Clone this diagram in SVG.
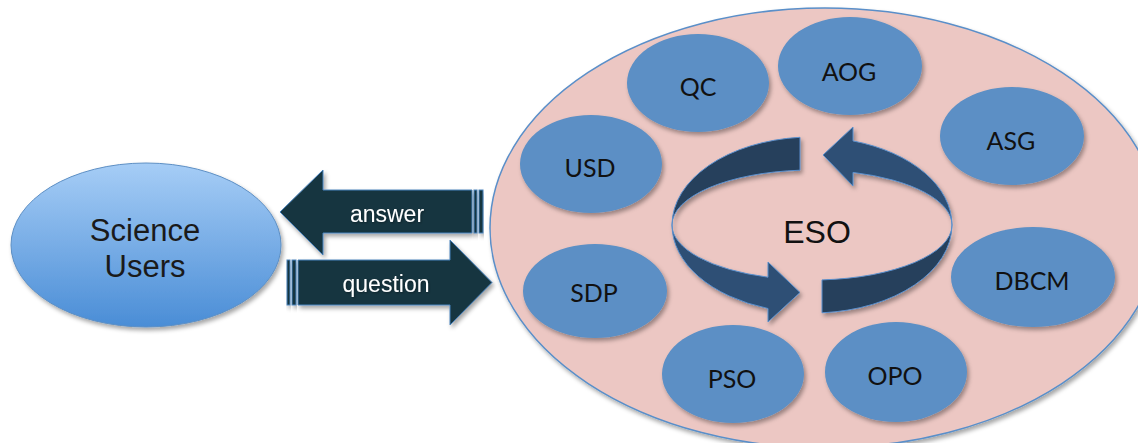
<svg xmlns="http://www.w3.org/2000/svg" width="1138" height="443" viewBox="0 0 1138 443">
<defs>
<linearGradient id="gUsers" x1="0" y1="0" x2="0" y2="1">
<stop offset="0" stop-color="#a6cdf6"/>
<stop offset="1" stop-color="#4a8dd6"/>
</linearGradient>
<filter id="sh" x="-20%" y="-20%" width="140%" height="150%">
<feDropShadow dx="2" dy="3" stdDeviation="2" flood-color="#000" flood-opacity="0.35"/>
</filter>
<filter id="tsh" x="-10%" y="-20%" width="120%" height="150%">
<feDropShadow dx="1" dy="1" stdDeviation="0.8" flood-color="#000" flood-opacity="0.35"/>
</filter>
</defs>
<style>
.node{fill:#5b8fc5;filter:url(#sh)}
.lbl{font-family:Lato,"Open Sans",sans-serif;font-size:25px;fill:#111;text-anchor:middle}
.arr{fill:#153541;stroke:#4a83bd;stroke-width:1;filter:url(#sh)}
.atxt{font-family:"Liberation Sans",Arial,sans-serif;font-size:23px;fill:#fff;text-anchor:middle;filter:url(#tsh)}
.dk{fill:#253f5c;stroke:#5a8fcc;stroke-width:1}
.lt{fill:#2d5075;stroke:#5a8fcc;stroke-width:1}
</style>
<rect width="1138" height="443" fill="#fff"/>

<g id="eso">
<ellipse cx="825" cy="228" rx="335" ry="220" fill="#ecc7c3" stroke="#5a8fc9" stroke-width="1.5" filter="url(#sh)"/>
<g id="cycle" filter="url(#sh)">
<path class="dk" d="M 800 137.3 A 140 88 0 0 0 672 225 A 140 55 0 0 1 800 170.2 Z"/>
<path class="lt" d="M 672 225 A 140 88 0 0 0 768 308.5 L 768 322 L 800 292.5 L 768 262 L 768 277.2 A 140 55 0 0 1 672 225 Z"/>
<path class="dk" d="M 822 279.9 L 822 312.8 A 140 88 0 0 0 952 225 A 140 55 0 0 1 822 279.9 Z"/>
<path class="lt" d="M 952 225 A 140 88 0 0 0 853 140.9 L 853 127 L 823 155 L 853 186 L 853 172.4 A 140 55 0 0 1 952 225 Z"/>
</g>
<text x="817" y="243" font-family="'Liberation Sans',Arial,sans-serif" font-size="32" fill="#111" text-anchor="middle">ESO</text>
</g>

<g id="science-users">
<ellipse cx="146" cy="245" rx="135" ry="82" fill="url(#gUsers)" stroke="#5d8fc4" stroke-width="1" filter="url(#sh)"/>
<text x="145" y="241" font-family="'Liberation Sans',Arial,sans-serif" font-size="31" fill="#1a1a1a" text-anchor="middle">Science</text>
<text x="145" y="277" font-family="'Liberation Sans',Arial,sans-serif" font-size="31" fill="#1a1a1a" text-anchor="middle">Users</text>
</g>

<g id="qc"><ellipse class="node" cx="698" cy="83" rx="71" ry="49"/><text class="lbl" x="698" y="96">QC</text></g>
<g id="aog"><ellipse class="node" cx="850" cy="66" rx="72" ry="49"/><text class="lbl" x="849" y="81">AOG</text></g>
<g id="asg"><ellipse class="node" cx="1012" cy="136" rx="72" ry="49"/><text class="lbl" x="1011" y="150">ASG</text></g>
<g id="usd"><ellipse class="node" cx="591" cy="164" rx="71" ry="49"/><text class="lbl" x="590" y="177">USD</text></g>
<g id="sdp"><ellipse class="node" cx="595" cy="291" rx="72" ry="47"/><text class="lbl" x="594" y="302">SDP</text></g>
<g id="pso"><ellipse class="node" cx="733" cy="374" rx="71" ry="49"/><text class="lbl" x="732" y="388">PSO</text></g>
<g id="opo"><ellipse class="node" cx="896" cy="372" rx="71" ry="50"/><text class="lbl" x="895" y="385">OPO</text></g>
<g id="dbcm"><ellipse class="node" cx="1033" cy="277" rx="82" ry="50"/><text class="lbl" x="1032" y="290">DBCM</text></g>

<g id="connectors">
<g id="answer">
<path class="arr" d="M 280 212 L 323 170 L 323 190 L 472 190 L 472 233 L 323 233 L 323 255 Z"/>
<rect class="arr" x="474" y="190" width="3" height="43"/>
<rect class="arr" x="479" y="190" width="4" height="43"/>
<text class="atxt" x="387" y="222">answer</text>
</g>
<g id="question">
<path class="arr" d="M 298 260 L 450 260 L 450 240 L 492 282.5 L 450 325 L 450 305 L 298 305 Z"/>
<rect class="arr" x="287" y="260" width="3" height="45"/>
<rect class="arr" x="292" y="260" width="4" height="45"/>
<text class="atxt" x="386" y="292">question</text>
</g>
</g>
</svg>
